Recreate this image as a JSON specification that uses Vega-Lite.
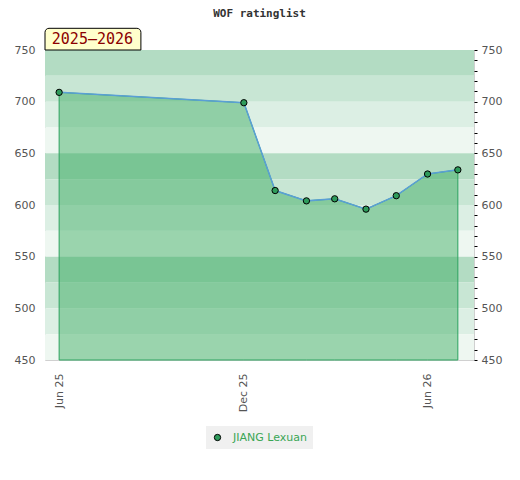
{
  "$schema": "https://vega.github.io/schema/vega-lite/v6.json",
  "description": "WOF ratinglist for JIANG Lexuan, 2025-2026",
  "autosize": "none",
  "width": 429,
  "height": 310,
  "padding": {"left": 45, "top": 50, "right": 46, "bottom": 120},
  "background": "white",
  "view": {"stroke": "#d0d0d0"},
  "title": {
    "text": "WOF ratinglist",
    "font": "DejaVu Sans Mono",
    "fontWeight": "bold",
    "fontSize": 11,
    "color": "#333333",
    "anchor": "middle",
    "frame": "group",
    "baseline": "middle",
    "offset": 3
  },
  "config": {
    "axis": {
      "labelFont": "DejaVu Sans",
      "labelFontSize": 11,
      "labelColor": "#555555",
      "grid": false,
      "domain": false
    },
    "legend": {
      "labelFont": "DejaVu Sans"
    }
  },
  "datasets": {
    "bands": [
      {"lo": 725, "hi": 750, "shade": "1"},
      {"lo": 700, "hi": 725, "shade": "2"},
      {"lo": 675, "hi": 700, "shade": "3"},
      {"lo": 650, "hi": 675, "shade": "4"},
      {"lo": 625, "hi": 650, "shade": "1"},
      {"lo": 600, "hi": 625, "shade": "2"},
      {"lo": 575, "hi": 600, "shade": "3"},
      {"lo": 550, "hi": 575, "shade": "4"},
      {"lo": 525, "hi": 550, "shade": "1"},
      {"lo": 500, "hi": 525, "shade": "2"},
      {"lo": 475, "hi": 500, "shade": "3"},
      {"lo": 450, "hi": 475, "shade": "4"}
    ],
    "ratings": [
      {"player": "JIANG Lexuan", "date": "2025-06-01T00:00:00", "rating": 709},
      {"player": "JIANG Lexuan", "date": "2025-12-01T00:00:00", "rating": 699},
      {"player": "JIANG Lexuan", "date": "2026-01-01T00:00:00", "rating": 614},
      {"player": "JIANG Lexuan", "date": "2026-02-01T00:00:00", "rating": 604},
      {"player": "JIANG Lexuan", "date": "2026-03-01T00:00:00", "rating": 606},
      {"player": "JIANG Lexuan", "date": "2026-04-01T00:00:00", "rating": 596},
      {"player": "JIANG Lexuan", "date": "2026-05-01T00:00:00", "rating": 609},
      {"player": "JIANG Lexuan", "date": "2026-06-01T00:00:00", "rating": 630},
      {"player": "JIANG Lexuan", "date": "2026-07-01T00:00:00", "rating": 634}
    ],
    "season": [
      {"season": "2025–2026"}
    ]
  },
  "layer": [
    {
      "data": {"name": "bands"},
      "mark": {"type": "rect"},
      "encoding": {
        "y": {
          "field": "lo",
          "type": "quantitative",
          "title": null,
          "scale": {"domain": [450, 750], "nice": false, "zero": false},
          "axis": {
            "orient": "left",
            "values": [450, 500, 550, 600, 650, 700, 750],
            "ticks": false,
            "labelPadding": 10
          }
        },
        "y2": {"field": "hi"},
        "fill": {
          "field": "shade",
          "type": "nominal",
          "legend": null,
          "scale": {
            "domain": ["1", "2", "3", "4"],
            "range": ["#b3dcc3", "#c8e6d4", "#dcefe4", "#eef7f1"]
          }
        }
      }
    },
    {
      "data": {"name": "ratings"},
      "mark": {
        "type": "area",
        "fill": "#33a95c",
        "fillOpacity": 0.45,
        "stroke": "#2ca25f",
        "strokeWidth": 1
      },
      "encoding": {
        "x": {
          "field": "date",
          "type": "temporal",
          "title": null,
          "scale": {
            "domain": [
              {"year": 2025, "month": 5, "date": 18},
              {"year": 2026, "month": 7, "date": 17}
            ]
          },
          "axis": {
            "values": [
              {"year": 2025, "month": 6, "date": 1},
              {"year": 2025, "month": 12, "date": 1},
              {"year": 2026, "month": 6, "date": 1}
            ],
            "format": "%b %y",
            "labelAngle": 270,
            "labelAlign": "right",
            "labelBaseline": "middle",
            "ticks": false,
            "labelPadding": 13
          }
        },
        "y": {
          "field": "rating",
          "type": "quantitative",
          "title": null,
          "axis": {
            "orient": "right",
            "values": [450, 460, 470, 480, 490, 500, 510, 520, 530, 540, 550, 560, 570, 580, 590, 600, 610, 620, 630, 640, 650, 660, 670, 680, 690, 700, 710, 720, 730, 740, 750],
            "labelExpr": "datum.value % 50 == 0 ? datum.label : ''",
            "tickSize": 3,
            "tickColor": "#000000",
            "tickOffset": 0,
            "labelPadding": 4
          }
        },
        "y2": {"datum": 450}
      }
    },
    {
      "data": {"name": "ratings"},
      "mark": {"type": "line", "color": "#5a9fd6", "strokeWidth": 1.5},
      "encoding": {
        "x": {"field": "date", "type": "temporal", "title": null},
        "y": {"field": "rating", "type": "quantitative", "title": null, "axis": null}
      }
    },
    {
      "data": {"name": "ratings"},
      "mark": {
        "type": "point",
        "filled": true,
        "size": 40,
        "stroke": "#000000",
        "strokeWidth": 1,
        "opacity": 1
      },
      "encoding": {
        "x": {"field": "date", "type": "temporal", "title": null},
        "y": {"field": "rating", "type": "quantitative", "title": null, "axis": null},
        "color": {
          "field": "player",
          "type": "nominal",
          "scale": {"range": ["#2e9b5b"]},
          "legend": {
            "title": null,
            "orient": "none",
            "legendX": 161,
            "legendY": 376,
            "fillColor": "#f0f0f0",
            "padding": 6,
            "symbolType": "circle",
            "symbolSize": 40,
            "symbolStrokeColor": "#000000",
            "symbolStrokeWidth": 1,
            "labelColor": "#3aa655",
            "labelFontSize": 11,
            "labelOffset": 10
          }
        }
      }
    },
    {
      "data": {"name": "season"},
      "mark": {
        "type": "rect",
        "fill": "#ffffcc",
        "stroke": "#000000",
        "strokeWidth": 1,
        "cornerRadiusTopLeft": 4,
        "cornerRadiusTopRight": 4
      },
      "encoding": {
        "x": {"datum": {"year": 2025, "month": 5, "date": 18}, "type": "temporal", "title": null},
        "x2": {"datum": {"year": 2025, "month": 8, "date": 21}},
        "y": {"datum": 750, "type": "quantitative", "title": null, "axis": null},
        "y2": {"datum": 771}
      }
    },
    {
      "data": {"name": "season"},
      "mark": {
        "type": "text",
        "font": "DejaVu Sans Mono",
        "fontSize": 15,
        "color": "#8b0000",
        "baseline": "middle",
        "align": "center"
      },
      "encoding": {
        "x": {"datum": {"year": 2025, "month": 7, "date": 4}, "type": "temporal", "title": null},
        "y": {"datum": 760.5, "type": "quantitative", "title": null, "axis": null},
        "text": {"field": "season", "type": "nominal"}
      }
    }
  ],
  "resolve": {"axis": {"y": "independent"}}
}
